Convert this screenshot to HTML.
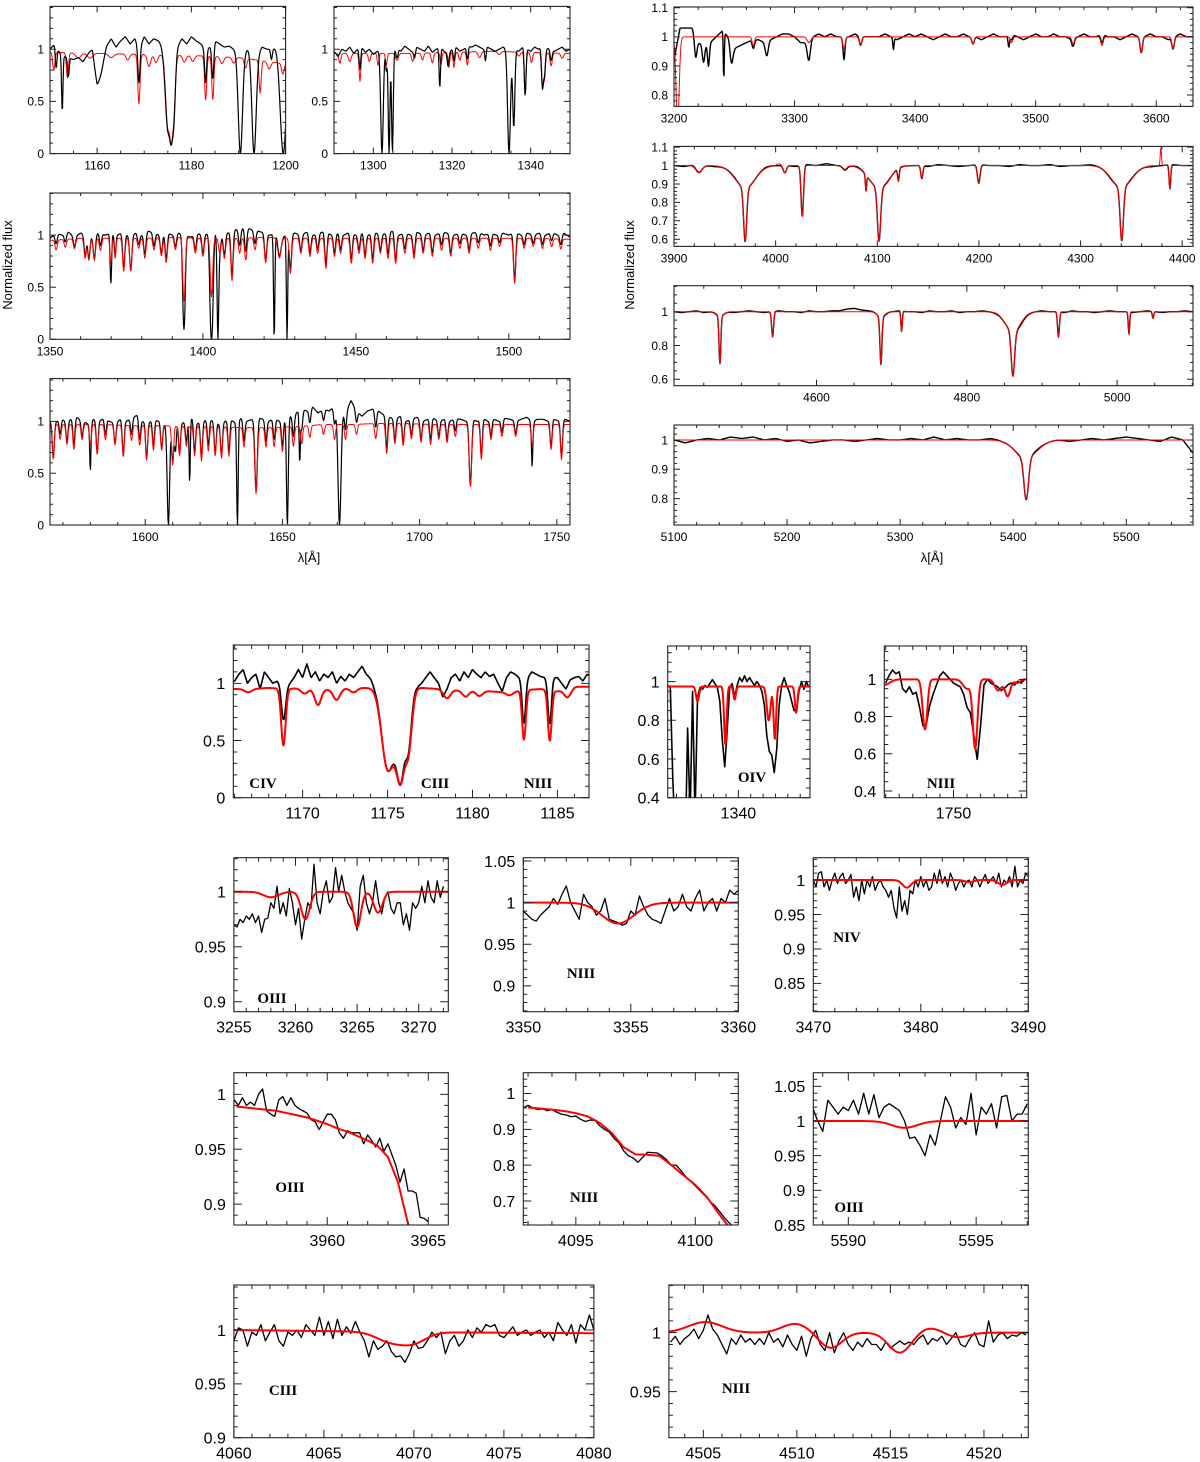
<!DOCTYPE html>
<html><head><meta charset="utf-8"><title>Spectra fits</title>
<style>
html,body{margin:0;padding:0;background:#fff;}
svg{display:block;}
text{font-family:"Liberation Sans",sans-serif;fill:#000;}
.sp{font-family:"Liberation Serif",serif;font-size:15px;font-weight:bold;}
</style></head>
<body>
<svg id="fig" xmlns="http://www.w3.org/2000/svg" width="1200" height="1462" viewBox="0 0 1200 1462">
<rect x="0" y="0" width="1200" height="1462" fill="#fff"/>
<text x="12" y="265" font-size="13" text-anchor="middle" transform="rotate(-90 12 265)">Normalized flux</text>
<text x="634" y="265" font-size="13" text-anchor="middle" transform="rotate(-90 634 265)">Normalized flux</text>
<text x="309" y="562" font-size="13" text-anchor="middle">λ[Å]</text>
<text x="932" y="562" font-size="13" text-anchor="middle">λ[Å]</text>
<text class="sp" x="263" y="788" text-anchor="middle">CIV</text>
<text class="sp" x="435" y="788" text-anchor="middle">CIII</text>
<text class="sp" x="538" y="788" text-anchor="middle">NIII</text>
<text class="sp" x="752" y="782" text-anchor="middle">OIV</text>
<text class="sp" x="941" y="788" text-anchor="middle">NIII</text>
<text class="sp" x="272" y="1003" text-anchor="middle">OIII</text>
<text class="sp" x="581" y="978" text-anchor="middle">NIII</text>
<text class="sp" x="847" y="942" text-anchor="middle">NIV</text>
<text class="sp" x="290" y="1192" text-anchor="middle">OIII</text>
<text class="sp" x="584" y="1202" text-anchor="middle">NIII</text>
<text class="sp" x="849" y="1212" text-anchor="middle">OIII</text>
<text class="sp" x="283" y="1395" text-anchor="middle">CIII</text>
<text class="sp" x="736" y="1393" text-anchor="middle">NIII</text>
</svg>
<script>
// ===== DATA =====
// line lists: [centre wavelength, depth, gaussian sigma]
const p1ModelCont=[0.97,0.96,0.95,0.94,0.92,0.86];
const p1ModelLines=[[1150.8,0.18,0.12],[1153.7,0.25,0.12],[1156,0.05,0.3],[1158.5,0.05,0.3],[1163,0.04,0.3],[1166.5,0.06,0.2],[1168.87,0.5,0.13],[1171,0.12,0.2],[1172.5,0.08,0.2],[1175.0,0.7,0.25],[1175.7,0.85,0.22],[1176.2,0.55,0.2],[1178.5,0.07,0.2],[1180.3,0.06,0.2],[1183.03,0.45,0.12],[1184.55,0.45,0.12],[1186.5,0.07,0.2],[1189,0.06,0.2],[1191.5,0.1,0.15],[1194.6,0.35,0.12],[1196.5,0.08,0.2],[1199.4,0.12,0.15]];
const p1ObsCont=[1.0,1.05,0.97,0.93,0.92,0.9,0.92,0.88,0.95,1.02,0.75,0.85,1.03,1.1,1.02,1.08,1.12,1.05,1.1,1.0,1.12,1.05,1.1,1.08,1.02,1.0,1.0,1.02,1.1,1.05,1.12,1.08,1.05,1.0,1.02,1.08,1.05,1.02,1.03,1.0,1.0,0.98,1.0,1.0,0.95,1.02,1.0,1.0,1.02,1.0,1.0];
const p1ObsLines=[[1151.3,0.2,0.1],[1152.6,0.58,0.08],[1153.9,0.2,0.1],[1160.2,0.12,0.4],[1168.87,0.33,0.12],[1175.0,0.72,0.3],[1175.7,0.85,0.25],[1176.2,0.6,0.2],[1183.03,0.32,0.12],[1184.55,0.32,0.12],[1190.4,1,0.25],[1193.3,1,0.25],[1199.5,1,0.35],[1197,0.1,0.1]];

const p2ModelCont=[0.96,0.96,0.96,0.97,0.98,0.97,0.96];
const p2ModelLines=[[1291.5,0.1,0.15],[1294,0.08,0.2],[1296.6,0.28,0.12],[1299,0.08,0.15],[1301.2,0.12,0.12],[1303.3,0.12,0.12],[1306,0.07,0.2],[1310,0.08,0.15],[1312.5,0.07,0.15],[1315,0.1,0.15],[1317.2,0.12,0.12],[1319.2,0.15,0.12],[1320.5,0.15,0.12],[1322,0.08,0.15],[1323.9,0.13,0.12],[1327,0.06,0.2],[1332,0.03,0.2],[1337,0.04,0.2],[1338.6,0.42,0.12],[1340.2,0.1,0.15],[1343.0,0.35,0.13],[1343.5,0.25,0.13],[1345.2,0.13,0.15],[1348,0.05,0.2]];
const p2ObsCont=[0.98,0.93,1.0,0.98,1.02,0.96,1.0,1.02,0.97,1.0,0.95,0.98,1.0,1.0,0.97,1.0,1.02,0.98,1.03,1.0,0.97,1.02,1.0,0.98,1.03,0.97,1.0,1.02,0.98,0.95,1.0,1.02,0.98,1.0,1.03,1.02,1.04,1.02,1.0,1.02,1.0,0.98,1.0,1.02,1.0,1.0,1.0,0.98,1.02,1.0,0.98,1.02,1.0,1.03,1.0,1.02,0.98,1.0,1.02,0.98,1.0];
const p2ObsLines=[[1296.6,0.2,0.12],[1302.2,1,0.18],[1303.3,0.2,0.1],[1304.0,1,0.12],[1304.85,0.98,0.12],[1306,0.1,0.15],[1310.5,0.08,0.12],[1316.9,0.38,0.1],[1319,0.12,0.12],[1320.5,0.12,0.12],[1323.9,0.12,0.12],[1328.5,0.12,0.1],[1334.5,1,0.2],[1335.7,0.75,0.15],[1338.6,0.45,0.12],[1343.0,0.38,0.13],[1343.5,0.25,0.13],[1345.2,0.12,0.15]];

const p3ModelCont=[0.95,0.97,0.97,0.97,0.98,0.97,0.97,0.98,0.97,0.97,0.97,0.97,0.97,0.97,0.97,0.97,0.97,0.96];
const p3ModelLines=[[1352,0.1,0.2],[1355,0.08,0.2],[1358,0.1,0.2],[1361.5,0.2,0.2],[1362.7,0.22,0.2],[1364.5,0.22,0.2],[1366.5,0.12,0.2],[1369.9,0.25,0.15],[1371.3,0.2,0.15],[1374.1,0.33,0.2],[1376.4,0.33,0.2],[1379,0.1,0.2],[1381,0.2,0.2],[1384,0.12,0.2],[1386.4,0.18,0.2],[1388,0.25,0.2],[1391,0.12,0.2],[1393.8,0.62,0.22],[1397.5,0.15,0.2],[1400,0.18,0.2],[1402.8,0.58,0.22],[1405.5,0.15,0.2],[1407,0.2,0.2],[1409.5,0.42,0.2],[1412,0.15,0.2],[1414,0.22,0.2],[1417,0.12,0.2],[1420.5,0.25,0.2],[1425,0.2,0.3],[1428.6,0.35,0.2],[1432,0.15,0.2],[1435,0.18,0.2],[1437.5,0.15,0.2],[1440.2,0.3,0.2],[1443,0.18,0.2],[1445,0.15,0.2],[1448.5,0.25,0.2],[1451,0.15,0.2],[1453,0.2,0.2],[1455.5,0.25,0.2],[1458,0.15,0.2],[1460.5,0.2,0.2],[1463,0.25,0.2],[1466,0.15,0.2],[1469,0.2,0.2],[1472,0.15,0.2],[1475,0.18,0.2],[1478,0.12,0.2],[1481,0.18,0.2],[1484,0.1,0.2],[1487,0.15,0.2],[1490,0.1,0.2],[1494,0.12,0.2],[1497,0.08,0.2],[1501.9,0.45,0.2],[1505,0.1,0.2],[1508,0.08,0.2],[1511,0.1,0.2],[1514,0.08,0.2],[1517,0.1,0.2]];
const p3ObsCont=[0.97,1.02,1.0,1.03,0.98,1.02,1.0,0.98,1.03,1.0,1.02,1.0,1.03,0.98,1.02,1.0,1.04,1.02,1.0,1.03,1.0,1.02,1.0,0.98,1.02,1.0,1.02,1.03,1.0,1.02,1.05,1.06,1.08,1.05,1.04,1.02,1.0,1.02,0.98,1.02,1.02,1.0,1.03,1.0,1.02,1.04,1.0,1.02,1.0,1.03,1.0,1.02,1.0,1.03,1.0,1.02,1.04,1.0,1.02,1.0,1.03,1.0,1.02,1.0,1.03,1.02,1.0,1.02,1.0,1.02,1.03,1.0,1.02,1.0,1.02,1.0,1.03,1.0,1.02,1.0,1.02,1.0,1.03,1.0,1.02,0.98];
const p3IsmLines=[[1393.8,0.75,0.18],[1402.8,1,0.25],[1404.9,1,0.15],[1423.3,1,0.12],[1427.5,1,0.12],[1369.9,0.3,0.12]];

const p4ModelCont=[0.97,0.97,0.97,0.96,0.96,0.95,0.95,0.94,0.94,0.95,0.97,0.97,0.98,0.98,0.97,0.97,0.97,0.97,0.97,0.97];
const p4ModelLines=[[1566.5,0.35,0.2],[1569,0.15,0.2],[1571.5,0.2,0.2],[1574,0.25,0.2],[1577,0.15,0.2],[1580,0.2,0.2],[1582.5,0.3,0.2],[1585.5,0.15,0.2],[1589,0.2,0.2],[1592,0.32,0.2],[1595,0.15,0.2],[1598,0.2,0.2],[1600.5,0.35,0.2],[1603,0.25,0.2],[1606,0.25,0.2],[1610,0.4,0.2],[1612.5,0.3,0.2],[1615,0.2,0.2],[1618,0.3,0.2],[1620.5,0.35,0.2],[1623,0.25,0.2],[1625.5,0.3,0.2],[1627.8,0.32,0.2],[1630.5,0.3,0.2],[1636,0.2,0.2],[1640.4,0.68,0.25],[1644,0.2,0.2],[1647,0.2,0.2],[1650,0.25,0.2],[1654,0.2,0.2],[1657,0.18,0.2],[1660,0.12,0.2],[1665,0.1,0.2],[1669,0.15,0.2],[1673,0.15,0.2],[1677,0.1,0.2],[1684,0.15,0.2],[1688,0.3,0.2],[1691,0.2,0.2],[1694,0.22,0.2],[1697,0.15,0.2],[1700.5,0.18,0.2],[1704,0.2,0.2],[1707,0.15,0.2],[1710,0.18,0.2],[1713,0.12,0.2],[1718.5,0.62,0.25],[1722.5,0.35,0.2],[1726,0.15,0.2],[1730,0.12,0.2],[1735,0.12,0.2],[1741,0.2,0.2],[1747.9,0.25,0.2],[1751.7,0.35,0.2]];
const p4ObsCont=[1.0,0.98,1.03,1.0,1.02,1.04,1.0,0.98,1.02,1.0,1.03,1.0,0.98,1.02,1.0,1.03,1.06,1.0,0.98,1.02,1.0,0.97,1.0,1.02,0.98,1.0,1.03,0.98,1.0,1.02,1.0,0.97,1.0,1.02,0.98,1.03,1.0,1.02,1.04,1.02,1.0,1.03,1.0,1.02,1.05,1.08,1.12,1.1,1.14,1.08,1.12,1.1,1.15,1.1,1.08,1.2,1.1,1.05,1.1,1.12,1.1,1.06,1.04,1.02,1.05,1.0,1.02,1.04,1.0,1.02,1.03,1.0,1.02,1.0,1.03,1.02,1.0,1.02,1.0,1.03,1.0,1.02,1.0,1.03,1.02,1.0,1.02,1.04,1.0,1.02,1.02,1.0,1.02,1.0,1.02,1.0];
const p4IsmLines=[[1608.45,1,0.25],[1611,0.3,0.2],[1616.2,0.6,0.12],[1633.6,1,0.15],[1651.8,1,0.18],[1656.3,0.45,0.12],[1670.8,1,0.3],[1580,0.35,0.1],[1741,0.3,0.1]];

const r1ModelLines=[[3265.8,0.03,1],[3312,0.02,1.5],[3341,0.04,1],[3354.7,0.03,1],[3448,0.025,1],[3480,0.02,1],[3531,0.025,1],[3555,0.03,1],[3587.6,0.055,1],[3614,0.04,1]];
const r1ModelEdge=[[3203,0.3,1.3]];
const r1ObsCont=[0.92,1.03,1.03,1.03,0.98,0.97,0.98,1.0,1.02,1.0,0.96,0.97,0.98,0.99,0.99,0.98,0.99,1.0,1.01,1.01,1.0,0.98,0.98,1.0,1.01,1.0,1.01,1.0,1.0,1.0,1.01,1.0,1.0,1.0,1.0,1.01,1.0,0.99,1.0,1.01,1.0,1.01,1.0,0.99,1.0,1.01,1.0,1.0,1.01,1.0,1.0,0.99,1.0,1.01,1.0,1.0,1.01,1.0,0.99,1.0,1.01,1.0,1.0,1.01,1.0,1.0,0.99,1.0,1.01,1.0,1.0,1.01,1.0,1.0,0.99,1.0,1.01,1.0,1.0,1.01,1.0,1.0,0.99,1.0,1.01,1.0,1.0];
const r1ObsLines=[[3218,0.07,1],[3224.5,0.06,1],[3228.6,0.08,0.8],[3241.3,0.16,0.4],[3247.7,0.07,1.2],[3277,0.05,1.2],[3311.8,0.05,1.2],[3341,0.04,0.6],[3382,0.04,0.5],[3477.7,0.04,0.6]];

const r2ModelLines=[[3970,0.33,1.5],[3970,0.12,10],[4101.7,0.33,1.6],[4101.7,0.12,10],[4340.5,0.33,1.6],[4340.5,0.12,10],[3924.5,0.04,3],[4009,0.04,1.5],[4026.2,0.28,1.2],[4068,0.02,2],[4088.9,0.09,0.6],[4120.8,0.07,0.8],[4143.8,0.07,1],[4199.8,0.1,1.3],[4387.9,0.13,0.8]];
const r2ModelEmission=[[4379,-0.1,0.6],[4003,-0.01,2]];
const r2ObsCont=[1.0,0.995,1.005,1.0,0.995,1.0,1.005,0.995,1.0,1.005,1.0,1.0,0.995,1.005,1.0,1.01,1.0,0.995,1.005,1.0,1.0,0.995,1.005,1.0,1.0,0.995,1.005,1.0,0.995,1.0,1.005,1.0,1.0,0.995,1.005,1.0,1.0,1.005,0.995,1.0,1.0,1.005,1.0,0.995,1.0,1.005,1.0,0.995,1.0,1.005,1.0,1.0];

const r3ModelLines=[[4471.5,0.29,1.2],[4471.5,0.03,5],[4541.6,0.15,1.3],[4685.7,0.29,1.3],[4685.7,0.03,5],[4713.2,0.12,0.9],[4861.3,0.3,2.2],[4861.3,0.12,10],[4921.9,0.15,1.2],[5015.7,0.13,0.9],[5047.7,0.04,1]];
const r3ObsCont=[1.0,0.995,1.0,1.005,0.995,1.0,1.005,1.0,0.995,1.0,1.005,1.0,0.995,1.0,1.005,1.0,1.0,0.995,1.005,1.0,1.0,1.005,1.005,1.015,1.02,1.01,1.005,1.0,0.995,1.0,1.005,1.0,1.0,0.995,1.005,1.0,1.0,1.005,0.995,1.0,1.0,1.005,1.0,0.995,1.0,1.005,0.99,0.995,1.0,1.005,1.0,1.0,0.995,1.005,1.0,1.0,0.995,1.0,1.005,1.0,1.0,0.995,1.0,1.005,1.0,0.995,1.0,1.0,1.005,1.0];

const r4ModelLines=[[5411.5,0.15,2],[5411.5,0.06,10]];
const r4ObsCont=[1.0,0.99,1.0,1.005,1.0,1.01,1.005,1.01,1.0,1.005,0.995,1.0,0.99,0.995,1.0,1.0,0.995,1.0,1.005,1.0,1.0,1.005,1.0,1.01,1.0,1.005,1.0,1.0,1.005,1.0,1.0,0.995,1.005,1.0,1.0,0.995,1.0,1.005,1.0,1.005,1.01,1.005,1.0,0.995,1.01,1.0,0.95];

const b1ModelCont=[0.95,0.95,0.96,0.95,0.96,0.94,0.95,0.96,0.96,0.96,0.96,0.96,0.95,0.94,0.94,0.93,0.92,0.94,0.95,0.93,0.97,0.97];
const b1ModelLines=[[1166.8,0.03,0.2],[1168.87,0.52,0.13],[1170.1,0.05,0.2],[1170.9,0.14,0.18],[1172.0,0.1,0.2],[1173,0.04,0.2],[1175.0,0.7,0.35],[1175.35,0.3,0.3],[1175.75,0.85,0.28],[1176.2,0.55,0.22],[1178.5,0.08,0.2],[1179.6,0.06,0.2],[1180.4,0.05,0.2],[1182.2,0.03,0.2],[1183.03,0.46,0.11],[1184.55,0.47,0.11],[1185.6,0.08,0.2]];
const b1ObsCont=[1.02,1.08,1.12,1.0,1.05,1.08,0.95,1.1,1.05,1.0,1.02,1.0,0.95,1.0,1.05,1.12,1.05,1.17,1.05,1.1,1.02,1.08,1.05,1.1,1.0,1.06,1.02,1.08,1.05,1.1,1.15,1.08,1.05,1.0,1.0,1.0,1.0,1.0,1.0,1.0,1.0,1.0,0.98,0.97,1.0,1.05,1.1,1.05,1.0,0.88,0.95,1.05,1.08,1.02,1.1,1.05,1.12,1.08,1.05,1.1,1.06,1.08,1.0,0.93,1.05,1.1,1.08,1.05,1.0,1.05,1.1,1.08,1.06,1.05,1.0,1.05,1.05,1.0,0.95,1.03,1.05,1.06,1.02,1.08,1.05];
const b1ObsLines=[[1168.87,0.3,0.12],[1175.0,0.72,0.35],[1175.35,0.3,0.3],[1175.75,0.85,0.26],[1176.2,0.55,0.2],[1183.03,0.35,0.1],[1184.55,0.36,0.1]];

const b2ModelLines=[[1336.7,0.08,0.12],[1338.95,0.31,0.1],[1339.7,0.07,0.1],[1342.45,0.18,0.15],[1342.95,0.28,0.1],[1344.67,0.14,0.1]];
const b2Obs=[0.98,0.97,0.5,0.2,0.1,0.1,0.2,0.1,0.76,0.3,0.95,0.3,0.92,0.97,0.96,0.98,0.97,0.99,1.01,0.99,0.97,0.9,0.7,0.56,0.75,0.97,0.99,0.92,0.98,1.02,1.0,1.03,1.0,1.02,1.0,0.98,1.0,0.98,0.95,0.88,0.72,0.64,0.62,0.53,0.65,0.88,0.98,1.02,0.98,0.95,0.9,0.85,0.85,0.95,1.0,0.96,1.0,0.97];

const b3ModelLines=[[1744.9,0.03,0.4],[1747.9,0.27,0.17],[1751.0,0.05,0.3],[1751.6,0.37,0.17],[1753.3,0.06,0.25],[1754.0,0.09,0.2],[1754.7,0.02,0.2]];
const b3Obs=[0.98,1.02,1.05,1.03,1.04,0.95,0.93,0.96,0.92,0.93,0.85,0.75,0.76,0.86,0.92,0.97,1.02,1.04,1.02,1.0,0.98,0.97,0.96,0.92,0.85,0.82,0.7,0.57,0.75,0.97,1.0,0.98,0.97,0.96,0.94,0.95,0.97,0.98,0.97,0.99,0.98,1.0];

const b4ModelLines=[[3258,0.005,0.6],[3260.8,0.025,0.35],[3265.0,0.032,0.3],[3266.7,0.019,0.35]];
const b4Obs=[0.97,0.968,0.975,0.972,0.978,0.975,0.98,0.972,0.978,0.963,0.975,0.976,0.99,0.985,1.005,0.98,0.99,0.978,1.003,0.99,0.97,0.985,0.957,0.975,0.99,0.985,1.025,0.99,0.98,1.0,1.01,0.99,0.995,1.022,1.0,1.015,1.0,0.99,0.985,0.98,0.965,1.005,1.015,0.99,0.98,0.99,1.01,0.99,0.98,0.995,1.0,0.985,0.98,0.99,0.99,0.97,0.98,0.965,0.99,0.985,0.99,1.005,0.99,1.01,0.995,0.99,1.01,0.995,1.005];

const b5ModelLines=[[3354.4,0.025,0.75]];
const b5Obs=[0.99,0.985,0.98,0.978,0.985,0.99,0.995,1.005,0.998,1.01,1.02,1.0,0.99,0.98,1.01,1.0,0.995,0.985,0.99,1.005,0.98,0.978,0.976,0.973,0.975,0.99,0.985,1.008,0.995,0.985,0.98,0.978,0.975,0.99,1.005,0.99,0.995,1.01,0.995,0.99,1.005,1.015,0.99,1.0,1.005,0.99,1.005,1.0,1.015,1.01,1.015];

const b6ModelLines=[[3478.7,0.011,0.4],[3484.5,0.003,0.4],[3487.6,0.007,0.4]];
const b6Obs=[1.0,0.99,1.01,1.012,0.99,1.0,0.985,1.0,1.01,0.995,1.005,1.01,0.995,1.0,1.008,0.975,0.99,0.97,1.0,0.98,1.0,0.99,1.005,0.985,0.995,1.0,0.99,0.985,0.975,0.985,0.96,0.945,0.99,0.955,0.97,0.95,0.985,0.98,1.0,0.99,1.005,0.99,1.0,0.985,0.99,1.01,0.995,1.015,0.995,1.005,0.99,1.01,1.0,0.985,0.995,1.0,0.99,0.998,1.0,0.99,1.005,1.0,0.99,1.0,1.008,0.995,1.0,1.005,0.995,1.01,0.99,1.0,0.995,1.005,0.99,1.02,0.99,1.0,0.995,1.01,1.005];

const b7Model=[0.989,0.988,0.987,0.986,0.985,0.983,0.981,0.979,0.976,0.973,0.969,0.966,0.962,0.958,0.953,0.943,0.92,0.882,0.84];
const b7Obs=[0.995,0.99,0.997,0.99,0.993,0.99,1.0,1.005,0.985,0.982,0.98,0.995,0.998,0.99,0.997,0.99,0.987,0.985,0.983,0.977,0.975,0.968,0.975,0.982,0.982,0.977,0.965,0.96,0.967,0.965,0.965,0.965,0.955,0.963,0.958,0.952,0.96,0.948,0.955,0.945,0.935,0.92,0.932,0.912,0.912,0.91,0.888,0.887,0.884];

const b8Model=[0.961,0.958,0.955,0.951,0.945,0.936,0.918,0.89,0.85,0.83,0.829,0.826,0.8,0.772,0.745,0.71,0.663,0.62];
const b8Obs=[0.96,0.967,0.96,0.955,0.957,0.952,0.955,0.948,0.942,0.94,0.935,0.937,0.928,0.922,0.926,0.925,0.91,0.9,0.892,0.875,0.862,0.84,0.826,0.82,0.808,0.822,0.836,0.835,0.834,0.826,0.815,0.8,0.8,0.785,0.768,0.755,0.742,0.728,0.715,0.7,0.688,0.672,0.655,0.64,0.628,0.615];

const b9ModelLines=[[5592.2,0.0098,0.5]];
const b9Obs=[1.02,1.0,0.985,1.03,1.02,1.01,1.02,1.015,1.03,1.01,1.04,1.01,1.038,1.005,1.02,1.025,1.02,1.015,1.0,0.975,0.977,0.965,0.95,0.98,0.965,1.0,1.035,1.02,0.99,1.005,0.995,1.04,0.98,1.02,1.01,1.025,0.99,1.035,1.037,1.0,1.01,1.01,1.025];

const b10ModelCont=[1.0,0.998,0.997];
const b10ModelLines=[[4068.7,0.009,0.8],[4070.0,0.009,0.7]];
const b10Obs=[0.99,1.002,1.0,0.985,0.998,0.995,1.005,0.99,0.998,1.005,0.99,0.985,0.998,0.995,1.0,0.993,1.005,1.0,0.995,1.012,0.995,1.008,0.992,1.01,0.995,1.003,0.997,1.008,0.998,0.99,0.975,0.99,0.982,0.985,0.99,0.98,0.975,0.976,0.97,0.978,0.99,0.983,0.984,0.99,0.998,0.993,0.998,0.978,0.99,0.995,0.985,0.99,1.0,0.993,1.002,0.998,1.005,1.003,1.005,0.995,0.993,0.998,1.003,0.995,0.998,1.0,0.995,0.998,1.0,0.993,0.998,0.99,1.007,1.0,0.995,1.005,0.988,1.005,1.0,1.014,1.0];

const b11ModelLines=[[4505.1,-0.009,0.9],[4509.9,-0.0075,0.7],[4511.8,0.013,0.6],[4515.5,0.017,0.6],[4517.1,-0.004,0.6],[4518.6,0.004,0.6]];
const b11Obs=[0.992,0.997,0.99,0.995,0.998,1.003,0.995,1.002,1.015,1.003,0.998,0.99,0.982,0.995,0.99,0.998,0.992,0.995,0.99,0.995,0.99,1.0,0.992,0.995,0.988,0.998,0.99,0.985,0.997,0.98,0.995,1.002,0.99,0.985,1.0,0.983,0.993,1.0,0.99,0.985,0.992,0.988,0.995,0.99,0.99,0.985,0.992,0.987,0.99,0.993,0.99,0.992,0.99,0.995,0.998,0.99,0.995,0.993,0.997,0.99,0.995,1.0,0.99,0.988,0.995,1.0,0.99,0.988,1.01,0.992,0.998,1.0,0.995,0.998,0.997,1.0,0.998];

// ===== RENDERING =====
const NS='http://www.w3.org/2000/svg';
const svg=document.getElementById('fig');
function mk(tag,attrs,parent){const e=document.createElementNS(NS,tag);for(const k in attrs)e.setAttribute(k,attrs[k]);(parent||svg).appendChild(e);return e;}
function interp(arr,c0,step,x){if(typeof arr==='number')return arr;let t=(x-c0)/step,i=Math.floor(t);if(i<0)return arr[0];if(i>=arr.length-1)return arr[arr.length-1];const f=t-i;return arr[i]*(1-f)+arr[i+1]*f;}
function absorb(lists,x,wf){let v=1;for(const L of lists)for(const ln of L){const z=(x-ln[0])/(ln[2]*wf);if(Math.abs(z)<6)v*=1-ln[1]*Math.exp(-0.5*z*z);}return v;}
function fmt(v){return String(+v.toFixed(3));}

const panels=[
 {id:'uv-1150',x:50,y:6.4,w:235.6,h:147.2,xd:[1150,1200],yd:[0,1.41],xl:[1160,1180,1200],xm:5,yl:[0,0.5,1],ym:0.1,fs:12,tl:6,wf:1.8,
  series:[{k:'model',cont:p1ModelCont,c0:1150,step:10,lines:[p1ModelLines],color:'#f00',sw:1},{k:'observed',cont:p1ObsCont,c0:1150,step:1,lines:[p1ObsLines],color:'#000',sw:1.2}]},
 {id:'uv-1290',x:334,y:6.4,w:236,h:147.2,xd:[1290,1350],yd:[0,1.41],xl:[1300,1320,1340],xm:5,yl:[0,0.5,1],ym:0.1,fs:12,tl:6,wf:1.8,
  series:[{k:'model',cont:p2ModelCont,c0:1290,step:10,lines:[p2ModelLines],color:'#f00',sw:1},{k:'observed',cont:p2ObsCont,c0:1290,step:1,lines:[p2ObsLines],color:'#000',sw:1.2}]},
 {id:'uv-1350',x:50,y:193,w:520,h:146.3,xd:[1350,1520],yd:[0,1.405],xl:[1350,1400,1450,1500],xm:10,yl:[0,0.5,1],ym:0.1,fs:12,tl:6,wf:1.8,
  series:[{k:'observed',cont:p3ObsCont,c0:1350,step:2,lines:[p3ModelLines,p3IsmLines],color:'#000',sw:1.2},{k:'model',cont:p3ModelCont,c0:1350,step:10,lines:[p3ModelLines],color:'#f00',sw:1}]},
 {id:'uv-1565',x:50,y:378.6,w:520,h:146.4,xd:[1565.3,1754.8],yd:[0,1.413],xl:[1600,1650,1700,1750],xm:10,yl:[0,0.5,1],ym:0.1,fs:12,tl:6,wf:1.8,
  series:[{k:'observed',cont:p4ObsCont,c0:1565,step:2,lines:[p4ModelLines,p4IsmLines],color:'#000',sw:1.2},{k:'model',cont:p4ModelCont,c0:1565,step:10,lines:[p4ModelLines],color:'#f00',sw:1}]},
 {id:'opt-3200',x:674,y:7,w:519,h:99.4,xd:[3200,3630.5],yd:[0.761,1.1025],xl:[3200,3300,3400,3500,3600],xm:20,yl:[0.8,0.9,1,1.1],ym:0.02,fs:12,tl:6,wf:1,
  series:[{k:'observed',cont:r1ObsCont,c0:3200,step:5,lines:[r1ModelLines,r1ObsLines],color:'#000',sw:1.4},{k:'model',cont:1,c0:0,step:1,lines:[r1ModelLines,r1ModelEdge],color:'#f00',sw:1}]},
 {id:'opt-3900',x:674,y:146.4,w:519,h:100,xd:[3900,4410.6],yd:[0.561,1.104],xl:[3900,4000,4100,4200,4300,4400],xm:20,yl:[0.6,0.7,0.8,0.9,1,1.1],ym:0.02,fs:12,tl:6,wf:1,
  series:[{k:'observed',cont:r2ObsCont,c0:3900,step:10,lines:[r2ModelLines],color:'#000',sw:1.4},{k:'model',cont:1,c0:0,step:1,lines:[r2ModelLines,r2ModelEmission],color:'#f00',sw:1}]},
 {id:'opt-4410',x:674,y:285.7,w:519,h:100,xd:[4410.4,5100.9],yd:[0.562,1.154],xl:[4600,4800,5000],xm:50,yl:[0.6,0.8,1],ym:0.05,fs:12,tl:6,wf:1,
  series:[{k:'observed',cont:r3ObsCont,c0:4410,step:10,lines:[r3ModelLines],color:'#000',sw:1.4},{k:'model',cont:1,c0:0,step:1,lines:[r3ModelLines],color:'#f00',sw:1}]},
 {id:'opt-5100',x:674,y:425,w:519,h:100,xd:[5100,5559],yd:[0.71,1.051],xl:[5100,5200,5300,5400,5500],xm:20,yl:[0.8,0.9,1],ym:0.02,fs:12,tl:6,wf:1,
  series:[{k:'observed',cont:r4ObsCont,c0:5100,step:10,lines:[r4ModelLines],color:'#000',sw:1.4},{k:'model',cont:1,c0:0,step:1,lines:[r4ModelLines],color:'#f00',sw:1}]},
 {id:'civ-ciii-niii',x:233.3,y:645,w:355.7,h:152.7,xd:[1165.92,1186.86],yd:[0,1.335],xl:[1170,1175,1180,1185],xm:1,yl:[0,0.5,1],ym:0.1,fs:16,tl:8,wf:1,
  series:[{k:'observed',cont:b1ObsCont,c0:1166,step:0.25,lines:[b1ObsLines],color:'#000',sw:1.6},{k:'model',cont:b1ModelCont,c0:1166,step:1,lines:[b1ModelLines],color:'#f00',sw:2}]},
 {id:'oiv-1340',x:667.7,y:646,w:142.3,h:151.7,xd:[1334.29,1345.79],yd:[0.4,1.184],xl:[1340],xm:1,yl:[0.4,0.6,0.8,1],ym:0.05,fs:16,tl:8,wf:1,
  series:[{k:'observed',pts:b2Obs,c0:1334.3,step:0.2,color:'#000',sw:1.6},{k:'model',cont:0.975,c0:0,step:1,lines:[b2ModelLines],color:'#f00',sw:2}]},
 {id:'niii-1750',x:884.3,y:646,w:142.4,h:151.7,xd:[1744.9,1755.4],yd:[0.364,1.179],xl:[1750],xm:1,yl:[0.4,0.6,0.8,1],ym:0.05,fs:16,tl:8,wf:1,
  series:[{k:'observed',pts:b3Obs,c0:1745,step:0.25,color:'#000',sw:1.6},{k:'model',cont:1,c0:0,step:1,lines:[b3ModelLines],color:'#f00',sw:2}]},
 {id:'oiii-3265',x:233.9,y:857.7,w:214.4,h:154,xd:[3255,3272.4],yd:[0.891,1.031],xl:[3255,3260,3265,3270],xm:1,yl:[0.9,0.95,1],ym:0.01,fs:16,tl:8,wf:1,
  series:[{k:'observed',pts:b4Obs,c0:3255,step:0.25,color:'#000',sw:1.3},{k:'model',cont:1,c0:0,step:1,lines:[b4ModelLines],color:'#f00',sw:2}]},
 {id:'niii-3355',x:523.3,y:857.7,w:215,h:154,xd:[3350,3360],yd:[0.869,1.054],xl:[3350,3355,3360],xm:1,yl:[0.9,0.95,1,1.05],ym:0.01,fs:16,tl:8,wf:1,
  series:[{k:'observed',pts:b5Obs,c0:3350,step:0.2,color:'#000',sw:1.3},{k:'model',cont:1,c0:0,step:1,lines:[b5ModelLines],color:'#f00',sw:2}]},
 {id:'niv-3480',x:813.3,y:857.7,w:215,h:154,xd:[3470,3490],yd:[0.809,1.0324],xl:[3470,3480,3490],xm:2,yl:[0.85,0.9,0.95,1],ym:0.01,fs:16,tl:8,wf:1,
  series:[{k:'observed',pts:b6Obs,c0:3470,step:0.25,color:'#000',sw:1.3},{k:'model',cont:1,c0:0,step:1,lines:[b6ModelLines],color:'#f00',sw:2}]},
 {id:'oiii-3962',x:233.9,y:1072.7,w:214.4,h:152.3,xd:[3955.38,3965.99],yd:[0.881,1.0198],xl:[3960,3965],xm:1,yl:[0.9,0.95,1],ym:0.01,fs:16,tl:8,wf:1,
  series:[{k:'observed',pts:b7Obs,c0:3955.4,step:0.2,color:'#000',sw:1.3},{k:'model',pts:b7Model,c0:3955.5,step:0.5,color:'#f00',sw:2}]},
 {id:'niii-4097',x:523.3,y:1072.7,w:215,h:152.3,xd:[4092.8,4101.8],yd:[0.633,1.058],xl:[4095,4100],xm:1,yl:[0.7,0.8,0.9,1],ym:0.02,fs:16,tl:8,wf:1,
  series:[{k:'observed',pts:b8Obs,c0:4092.8,step:0.2,color:'#000',sw:1.3},{k:'model',pts:b8Model,c0:4093,step:0.5,color:'#f00',sw:2}]},
 {id:'oiii-5592',x:813.3,y:1072.7,w:215,h:152.3,xd:[5588.63,5597.04],yd:[0.85,1.0697],xl:[5590,5595],xm:1,yl:[0.85,0.9,0.95,1,1.05],ym:0.01,fs:16,tl:8,wf:1,
  series:[{k:'observed',pts:b9Obs,c0:5588.6,step:0.2,color:'#000',sw:1.3},{k:'model',cont:1,c0:0,step:1,lines:[b9ModelLines],color:'#f00',sw:2}]},
 {id:'ciii-4070',x:233.9,y:1285,w:360,h:152.7,xd:[4060,4080],yd:[0.9,1.0418],xl:[4060,4065,4070,4075,4080],xm:1,yl:[0.9,0.95,1],ym:0.01,fs:16,tl:8,wf:1,
  series:[{k:'observed',pts:b10Obs,c0:4060,step:0.25,color:'#000',sw:1.3},{k:'model',cont:b10ModelCont,c0:4060,step:10,lines:[b10ModelLines],color:'#f00',sw:2}]},
 {id:'niii-4515',x:668.9,y:1285,w:359.4,h:152.7,xd:[4503.16,4522.37],yd:[0.911,1.0404],xl:[4505,4510,4515,4520],xm:1,yl:[0.95,1],ym:0.01,fs:16,tl:8,wf:1,
  series:[{k:'observed',pts:b11Obs,c0:4503.25,step:0.25,color:'#000',sw:1.3},{k:'model',cont:1,c0:0,step:1,lines:[b11ModelLines],color:'#f00',sw:2}]}
];

panels.forEach((p,pi)=>{
  const g=mk('g',{});
  
  
  const X=v=>p.x+(v-p.xd[0])/(p.xd[1]-p.xd[0])*p.w;
  const Y=v=>p.y+p.h-(v-p.yd[0])/(p.yd[1]-p.yd[0])*p.h;
  const cp=mk('clipPath',{id:'clip'+pi},g);
  mk('rect',{x:p.x,y:p.y,width:p.w,height:p.h},cp);
  const cg=mk('g',{'clip-path':'url(#clip'+pi+')'},g);
  
  
  p.series.forEach(s=>{
    let d='';
    if(s.pts){
      s.pts.forEach((v,i)=>{d+=(i?'L':'M')+X(s.c0+i*s.step).toFixed(2)+' '+Y(v).toFixed(2);});
    }else{
      const n=Math.round(p.w*2);
      for(let i=0;i<=n;i++){
        const lam=p.xd[0]+(p.xd[1]-p.xd[0])*i/n;
        const v=interp(s.cont,s.c0,s.step,lam)*absorb(s.lines,lam,p.wf);
        d+=(i?'L':'M')+X(lam).toFixed(2)+' '+Y(v).toFixed(2);
      }
    }
    const path=mk('path',{d:d,fill:'none',stroke:s.color,'stroke-width':s.sw,'stroke-linejoin':'round'},cg);
    
    
  });
  let td='';
  const isMaj=(v,arr)=>arr.some(a=>Math.abs(a-v)<1e-6);
  const tl=p.tl, tm=p.tl/2;
  for(let k=Math.ceil(p.xd[0]/p.xm-1e-9);k*p.xm<=p.xd[1]+1e-9;k++){
    const v=k*p.xm, xx=X(v), L=isMaj(v,p.xl)?tl:tm;
    td+='M'+xx+' '+(p.y+p.h)+'v'+(-L)+'M'+xx+' '+p.y+'v'+L;
  }
  for(let k=Math.ceil(p.yd[0]/p.ym-1e-9);k*p.ym<=p.yd[1]+1e-9;k++){
    const v=k*p.ym, yy=Y(v), L=isMaj(v,p.yl)?tl:tm;
    td+='M'+p.x+' '+yy+'h'+L+'M'+(p.x+p.w)+' '+yy+'h'+(-L);
  }
  const ticks=mk('path',{d:td,stroke:'#222','stroke-width':1,fill:'none'},g);
  
  
  const fr=mk('rect',{x:p.x,y:p.y,width:p.w,height:p.h,fill:'none',stroke:'#222','stroke-width':1.1},g);
  
  
  p.xl.forEach(v=>{
    const t=mk('text',{x:X(v),y:p.y+p.h+(p.fs>13?21:16),'font-size':p.fs,'text-anchor':'middle'},g);
    t.textContent=fmt(v);
    
    
  });
  p.yl.forEach(v=>{
    const t=mk('text',{x:p.x-(p.fs>13?8:6),y:Y(v)+p.fs*0.36,'font-size':p.fs,'text-anchor':'end'},g);
    t.textContent=fmt(v);
    
    
  });
});
</script>
</body></html>
